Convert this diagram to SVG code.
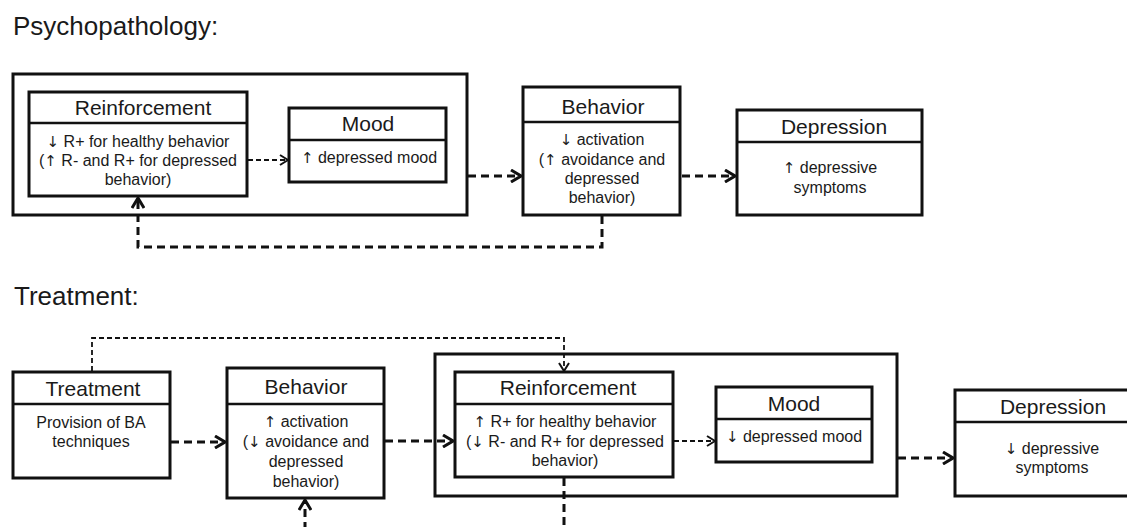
<svg xmlns="http://www.w3.org/2000/svg" width="1127" height="527" viewBox="0 0 1127 527">
<style>
  .box{fill:none;stroke:#111;stroke-width:3}
  .div{fill:none;stroke:#111;stroke-width:2.6}
  .t{font-family:"Liberation Sans",Arial,sans-serif;fill:#1a1a1a}
  .title{font-size:26px}
  .hd{font-size:21px;text-anchor:middle}
  .bd{font-size:16px;text-anchor:middle}
  .ar{font-family:"DejaVu Sans",sans-serif;font-size:15px}
  .thick{fill:none;stroke:#111;stroke-width:3;stroke-dasharray:8 5}
  .thin{fill:none;stroke:#111;stroke-width:1.8;stroke-dasharray:5 3}
</style>
<defs>
  <marker id="ah" viewBox="0 0 12 14" refX="11" refY="7" markerWidth="12" markerHeight="14" markerUnits="userSpaceOnUse" orient="auto">
    <path d="M1,1 L11,7 L1,13" fill="none" stroke="#111" stroke-width="3"/>
  </marker>
  <marker id="ahs" viewBox="0 0 10 12" refX="9" refY="6" markerWidth="10" markerHeight="12" markerUnits="userSpaceOnUse" orient="auto">
    <path d="M1,1 L9,6 L1,11" fill="none" stroke="#111" stroke-width="2"/>
  </marker>
</defs>
<rect width="1127" height="527" fill="#fff"/>

<text class="t title" x="13" y="35">Psychopathology:</text>
<text class="t title" x="14" y="305">Treatment:</text>

<!-- Psychopathology -->
<g id="p-container"><rect class="box" x="13" y="74" width="454" height="141"/></g>
<g id="p-reinforcement">
  <rect class="box" x="29" y="92" width="218" height="104"/>
  <line class="div" x1="29" y1="123" x2="247" y2="123"/>
  <text class="t hd" x="143" y="115">Reinforcement</text>
  <text class="t bd" x="138" y="147"><tspan class="ar">↓</tspan> R+ for healthy behavior</text>
  <text class="t bd" x="138" y="166">(<tspan class="ar">↑</tspan> R- and R+ for depressed</text>
  <text class="t bd" x="138" y="185">behavior)</text>
</g>
<g id="p-mood">
  <rect class="box" x="289" y="108" width="157" height="74"/>
  <line class="div" x1="289" y1="140" x2="446" y2="140"/>
  <text class="t hd" x="368" y="131">Mood</text>
  <text class="t bd" x="369" y="163"><tspan class="ar">↑</tspan> depressed mood</text>
</g>
<g id="p-behavior">
  <rect class="box" x="523" y="87" width="157" height="128"/>
  <line class="div" x1="523" y1="122" x2="680" y2="122"/>
  <text class="t hd" x="603" y="114">Behavior</text>
  <text class="t bd" x="602" y="145"><tspan class="ar">↓</tspan> activation</text>
  <text class="t bd" x="602" y="165">(<tspan class="ar">↑</tspan> avoidance and</text>
  <text class="t bd" x="602" y="184">depressed</text>
  <text class="t bd" x="602" y="203">behavior)</text>
</g>
<g id="p-depression">
  <rect class="box" x="737" y="110" width="185" height="105"/>
  <line class="div" x1="737" y1="142" x2="922" y2="142"/>
  <text class="t hd" x="834" y="134">Depression</text>
  <text class="t bd" x="830" y="173"><tspan class="ar">↑</tspan> depressive</text>
  <text class="t bd" x="830" y="193">symptoms</text>
</g>

<!-- Treatment -->
<g id="t-treatment">
  <rect class="box" x="13" y="372" width="157" height="106"/>
  <line class="div" x1="13" y1="404" x2="170" y2="404"/>
  <text class="t hd" x="93" y="396">Treatment</text>
  <text class="t bd" x="91" y="428">Provision of BA</text>
  <text class="t bd" x="91" y="447">techniques</text>
</g>
<g id="t-behavior">
  <rect class="box" x="227" y="368" width="157" height="130"/>
  <line class="div" x1="227" y1="404" x2="384" y2="404"/>
  <text class="t hd" x="306" y="394">Behavior</text>
  <text class="t bd" x="306" y="427"><tspan class="ar">↑</tspan> activation</text>
  <text class="t bd" x="306" y="447">(<tspan class="ar">↓</tspan> avoidance and</text>
  <text class="t bd" x="306" y="467">depressed</text>
  <text class="t bd" x="306" y="487">behavior)</text>
</g>
<g id="t-container"><rect class="box" x="435" y="354" width="462" height="142"/></g>
<g id="t-reinforcement">
  <rect class="box" x="455" y="372" width="218" height="105"/>
  <line class="div" x1="455" y1="404" x2="673" y2="404"/>
  <text class="t hd" x="568" y="395">Reinforcement</text>
  <text class="t bd" x="565" y="427"><tspan class="ar">↑</tspan> R+ for healthy behavior</text>
  <text class="t bd" x="565" y="447">(<tspan class="ar">↓</tspan> R- and R+ for depressed</text>
  <text class="t bd" x="565" y="466">behavior)</text>
</g>
<g id="t-mood">
  <rect class="box" x="716" y="387" width="156" height="75"/>
  <line class="div" x1="716" y1="419" x2="872" y2="419"/>
  <text class="t hd" x="794" y="411">Mood</text>
  <text class="t bd" x="794" y="442"><tspan class="ar">↓</tspan> depressed mood</text>
</g>
<g id="t-depression">
  <rect class="box" x="955" y="390" width="196" height="106"/>
  <line class="div" x1="955" y1="422" x2="1151" y2="422"/>
  <text class="t hd" x="1053" y="414">Depression</text>
  <text class="t bd" x="1052" y="454"><tspan class="ar">↓</tspan> depressive</text>
  <text class="t bd" x="1052" y="473">symptoms</text>
</g>

<g id="connectors">
  <line class="thin" x1="248" y1="160" x2="288" y2="160" marker-end="url(#ahs)"/>
  <line class="thick" x1="468" y1="176" x2="521" y2="176" marker-end="url(#ah)"/>
  <line class="thick" x1="682" y1="176" x2="735" y2="176" marker-end="url(#ah)"/>
  <path class="thick" d="M602,216 L602,247 L138,247 L138,198" marker-end="url(#ah)"/>

  <line class="thick" x1="171" y1="442" x2="225" y2="442" marker-end="url(#ah)"/>
  <line class="thick" x1="385" y1="441" x2="453" y2="441" marker-end="url(#ah)"/>
  <line class="thin" x1="674" y1="441" x2="715" y2="441" marker-end="url(#ahs)"/>
  <line class="thick" x1="898" y1="458" x2="953" y2="458" marker-end="url(#ah)"/>
  <path class="thin" d="M92,371 L92,338 L564,338 L564,371" marker-end="url(#ahs)"/>
  <line class="thick" x1="564" y1="478" x2="564" y2="530"/>
  <line class="thick" x1="305" y1="530" x2="305" y2="500" marker-end="url(#ah)"/>
</g>
</svg>
